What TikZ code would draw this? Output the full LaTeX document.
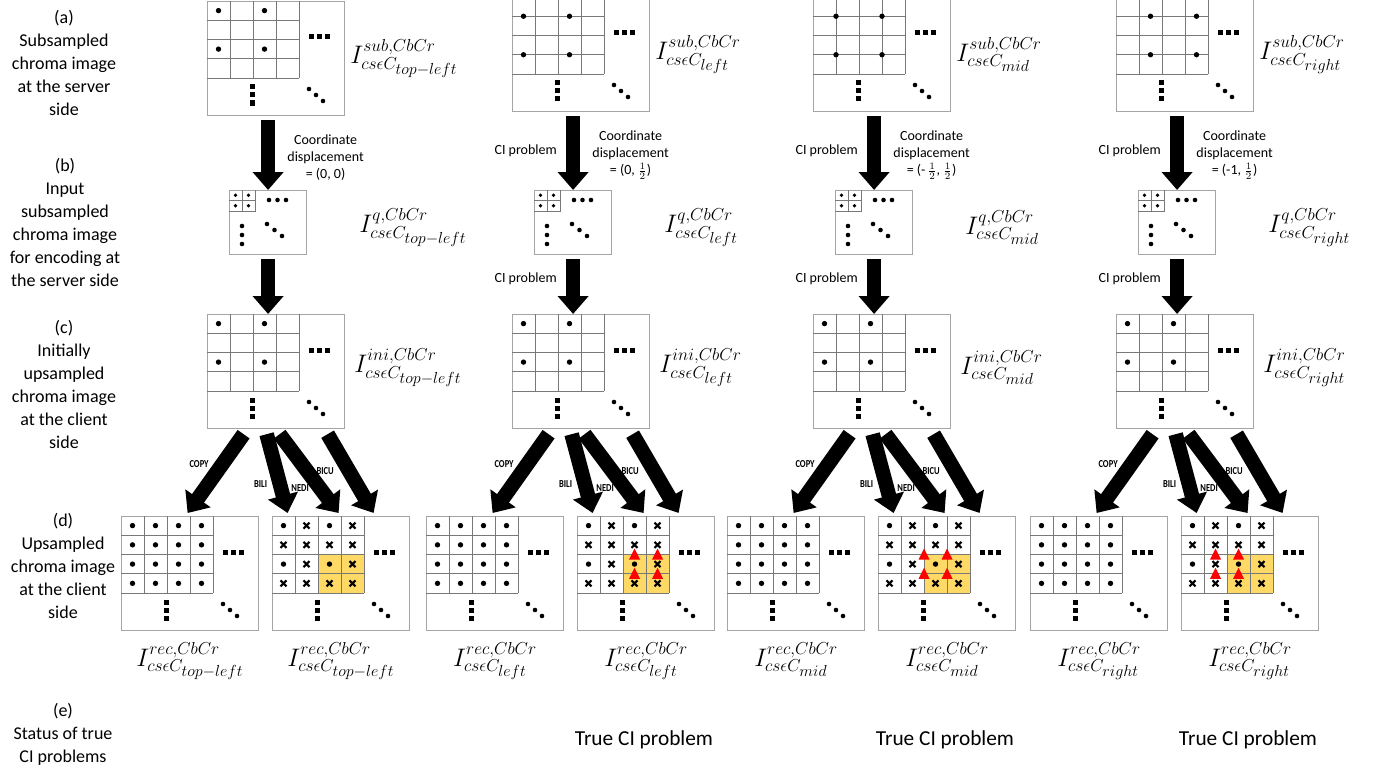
\RequirePackage{fix-cm}
\documentclass[tikz,border=0pt]{standalone}
\usepackage{fontspec}
\setmainfont{Carlito}
\usetikzlibrary{arrows.meta,calc}
\DeclareMathSizes{19}{19}{13}{12}

\definecolor{boxgray}{RGB}{165,165,165}
\definecolor{linegray}{RGB}{120,120,120}
\definecolor{cellyellow}{RGB}{255,217,102}

\tikzset{
  img/.style={draw=boxgray, line width=0.9pt, fill=white, inner sep=0pt,
    minimum width=102.75pt, minimum height=85.5pt},
  qimg/.style={img, minimum width=57.75pt, minimum height=48pt},
  gridline/.style={draw=linegray, line width=0.6pt},
  xmark/.style={line width=1.6pt},
  bigarrow/.style={line width=11pt, -{Triangle[length=13.5pt,width=22.5pt]}},
  lefttext/.style={align=center, font=\fontsize{13.5}{17.25}\selectfont},
  smalltext/.style={align=center, font=\fontsize{10.5}{12.75}\selectfont, inner sep=0pt},
  methodtext/.style={font=\fontsize{8}{9}\selectfont\bfseries, inner sep=0pt},
  mathlabel/.style={font=\fontsize{19}{22}\selectfont, inner sep=0pt},
  resulttext/.style={font=\fontsize{16}{19}\selectfont}
}

% marks inside the image boxes (units: pixels, y downwards)
\newcommand\dotat[1]{\fill (#1) circle (2.7);}
\newcommand\crossat[1]{\draw[xmark, shift={(#1)}] (-3,-3) -- (3,3) (-3,3) -- (3,-3);}
\newcommand\narrow[1]{\scalebox{0.8}[1]{#1}}
\newcommand\gridlines{%
  \foreach \k in {1,...,4} {
    \draw[gridline] (23*\k,0) -- (23*\k,77);
    \draw[gridline] (0,19.25*\k) -- (92,19.25*\k);
  }}
\newcommand\moremarks{%
  \foreach \k in {0,1,2} {
    \fill (104+8*\k,36) ++(-2.5,-2.5) rectangle ++(5,5);
    \fill (45,86+8*\k) ++(-2.5,-2.5) rectangle ++(5,5);
    \fill (102+7*\k,88+6*\k) circle (2.3);
  }}

\begin{document}
\begin{tikzpicture}[x=0.75pt, y=-0.75pt]
\useasboundingbox (0,0) rectangle (1374,774);
\clip (0,0) rectangle (1374,774);

% row captions
\node[lefttext] (rowa) at (64,63) {(a)\\Subsampled\\chroma image\\at the server\\side};
\node[lefttext] (rowb) at (65,222) {(b)\\Input\\subsampled\\chroma image\\for encoding at\\the server side};
\node[lefttext] (rowc) at (64,384) {(c)\\Initially\\upsampled\\chroma image\\at the client\\side};
\node[lefttext] (rowd) at (63,566) {(d)\\Upsampled\\chroma image\\at the client\\side};
\node[lefttext] (rowe) at (63,734) {(e)\\Status of true\\CI problems};

\foreach \c/\dx/\nm/\st/\sx/\sy/\tx/\co in {
    1/0/top-left/1/11.5/9.6/0/{(0, 0)},
    2/305/left/-3/11.5/19.25/57.5/{(0, $\frac{1}{2}$)},
    3/606/mid/-3/23/19.25/46/{(-\,$\frac{1}{2}$, $\frac{1}{2}$)},
    4/909/right/-3/34.5/19.25/34.5/{(-1, $\frac{1}{2}$)}} {

  % (a) subsampled image
  \node[img, anchor=north west] (sub\c) at (207+\dx,\st) {};
  \begin{scope}[shift={(sub\c.north west)}]
    \gridlines
    \foreach \i in {0,1} {\foreach \j in {0,1} {\dotat{\sx+46*\i,\sy+38.5*\j}}}
    \moremarks
  \end{scope}
  \node[mathlabel, anchor=west] (lsub\c) at ($(sub\c.east)+(5,0)$) {$I^{sub,CbCr}_{cs\epsilon C_{\nm}}$};

  % (b) input image
  \node[qimg, anchor=north west] (q\c) at (229+\dx,190) {};
  \begin{scope}[shift={(q\c.north west)}]
    \draw[gridline] (0,10.5) -- (26,10.5) (13,0) -- (13,21) (26,0) -- (26,21) -- (0,21);
    \foreach \i in {0,1} {\foreach \j in {0,1} {\fill (6.5+13*\i,5.25+10.5*\j) circle (1.8);}}
    \foreach \k in {0,1,2} {
      \fill (40+8.5*\k,10) circle (2.3);
      \fill (13,36+9*\k) circle (2.3);
      \fill (38+7.5*\k,34+6*\k) circle (2.3);
    }
  \end{scope}
  \node[mathlabel, anchor=west] (lq\c) at ($(q\c.east)+(52,5)$) {$I^{q,CbCr}_{cs\epsilon C_{\nm}}$};
  \draw[bigarrow] ($(q\c.north |- sub\c.south)+(0,4)$) -- (q\c.north)
    node[smalltext, pos=0.53, right=9pt] (disp\c) {Coordinate\\displacement\\= \co};

  % (c) initial upsampling
  \node[img, anchor=north west] (ini\c) at (207+\dx,314) {};
  \begin{scope}[shift={(ini\c.north west)}]
    \gridlines
    \foreach \i in {0,1} {\foreach \j in {0,1} {\dotat{11.5+46*\i,9.6+38.5*\j}}}
    \moremarks
  \end{scope}
  \node[mathlabel, anchor=west] (lini\c) at ($(ini\c.east)+(9,-4)$) {$I^{ini,CbCr}_{cs\epsilon C_{\nm}}$};
  \draw[bigarrow] ($(q\c.south)+(0,4)$) -- (q\c.south |- ini\c.north);

  \ifnum\c>1
    \path ($(q\c.north |- sub\c.south)+(0,4)$) -- (q\c.north)
      node[smalltext, pos=0.47, left=12pt] (cia\c) {CI problem};
    \path ($(q\c.south)+(0,4)$) -- (q\c.south |- ini\c.north)
      node[smalltext, pos=0.35, left=12pt] (cib\c) {CI problem};
    \node[resulttext] (true\c) at (339+\dx,740) {True CI problem};
  \fi

  % (d) upsampled images
  \node[img, anchor=north west] (copy\c) at (121+\dx,516) {};
  \begin{scope}[shift={(copy\c.north west)}]
    \gridlines
    \foreach \i in {0,...,3} {\foreach \j in {0,...,3} {\dotat{11.5+23*\i,9.6+19.25*\j}}}
    \moremarks
  \end{scope}
  \node[mathlabel, below=8pt] (lcopy\c) at (copy\c.south) {$I^{rec,CbCr}_{cs\epsilon C_{\nm}}$};

  \node[img, anchor=north west] (interp\c) at (272+\dx,516) {};
  \begin{scope}[shift={(interp\c.north west)}]
    \fill[cellyellow] (46,38.5) rectangle (92,77);
    \gridlines
    \foreach \i in {0,...,3} {\foreach \j in {0,...,3} {
      \pgfmathtruncatemacro\s{mod(\i,2)+mod(\j,2)}
      \ifnum\s=0 \dotat{11.5+23*\i,9.6+19.25*\j}\else\crossat{11.5+23*\i,9.6+19.25*\j}\fi
    }}
    \ifnum\c>1
      \foreach \i in {0,1} {\foreach \j in {0,1} {
        \fill[red] (\tx+23*\i-5.5,38.5+19.25*\j+5) -- (\tx+23*\i+5.5,38.5+19.25*\j+5)
          -- (\tx+23*\i,38.5+19.25*\j-6) -- cycle;
      }}
    \fi
    \moremarks
  \end{scope}
  \node[mathlabel, below=8pt] (linterp\c) at (interp\c.south) {$I^{rec,CbCr}_{cs\epsilon C_{\nm}}$};

  % upsampling methods
  \draw[bigarrow] ($(ini\c.south)+(-32.5,5)$) -- ($(copy\c.north)+(-2.5,-3)$);
  \draw[bigarrow] ($(ini\c.south)+(-9.5,5)$) -- ($(interp\c.north)+(-53.5,-3)$);
  \draw[bigarrow] ($(ini\c.south)+(3.5,5)$) -- ($(interp\c.north)+(-2.5,-3)$);
  \draw[bigarrow] ($(ini\c.south)+(51.5,5)$) -- ($(interp\c.north)+(32.5,-3)$);
  \node[methodtext] (mcopy\c) at ($(ini\c.south)+(-77,35)$) {\narrow{COPY}};
  \node[methodtext] (mbili\c) at ($(ini\c.south)+(-15.5,55)$) {\narrow{BILI}};
  \node[methodtext] (mnedi\c) at ($(ini\c.south)+(24,59)$) {\narrow{NEDI}};
  \node[methodtext] (mbicu\c) at ($(ini\c.south)+(49,42)$) {\narrow{BICU}};
}
\end{tikzpicture}
\end{document}
